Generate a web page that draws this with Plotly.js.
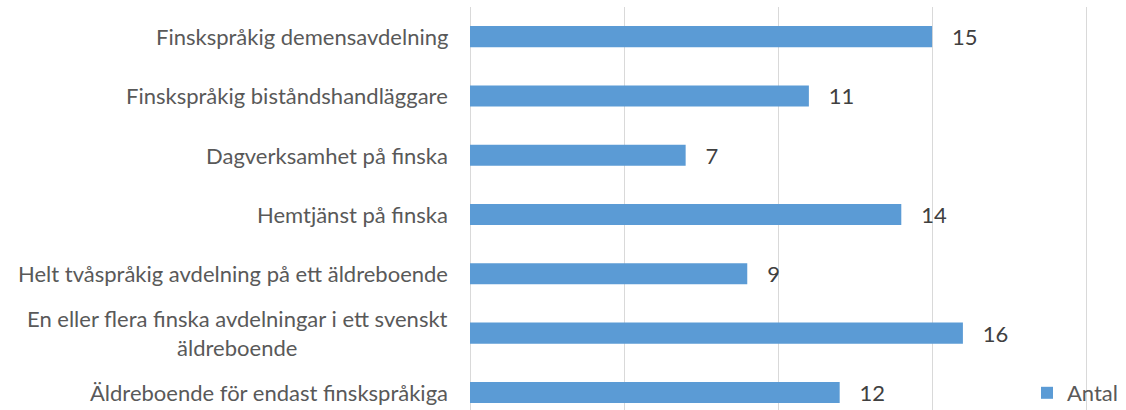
<!DOCTYPE html>
<html>
<head>
<meta charset="utf-8">
<script src="https://cdn.plot.ly/plotly-3.0.1.min.js"></script>
<style>html,body{margin:0;padding:0;background:#fff;}#chart{width:1126px;height:410px;}</style>
</head>
<body>
<div id="chart"></div>
<script>
const categories = [
  "Finskspråkig demensavdelning",
  "Finskspråkig biståndshandläggare",
  "Dagverksamhet på finska",
  "Hemtjänst på finska",
  "Helt tvåspråkig avdelning på ett äldreboende",
  "En eller flera finska avdelningar i ett svenskt<br>äldreboende",
  "Äldreboende för endast finskspråkiga"
];
const antal = [15, 11, 7, 14, 9, 16, 12];
const seriesName = "Antal";

const FONT = "Lato, 'Open Sans', sans-serif";
const LABEL_SIZE = 22;

const trace = {
  type: "bar",
  orientation: "h",
  name: seriesName,
  x: antal,
  y: categories,
  marker: {color: "#5B9BD5"},
  texttemplate: "\u00a0\u00a0\u00a0%{x}",
  textposition: "outside",
  constraintext: "none",
  textfont: {family: FONT, size: LABEL_SIZE, color: "#404040"},
  cliponaxis: false,
  showlegend: true,
  hoverinfo: "x+y"
};

const annotations = categories.map((c) => ({
  x: 0, xref: "x", y: c, yref: "y",
  text: c, showarrow: false,
  xanchor: "right", yanchor: "middle", align: "center",
  xshift: -20,
  font: {family: FONT, size: LABEL_SIZE, color: "#595959"}
}));

const layout = {
  width: 1126, height: 410,
  margin: {l: 470, r: 26, t: 7, b: 0, pad: 0, autoexpand: false},
  paper_bgcolor: "#ffffff", plot_bgcolor: "#ffffff",
  bargap: 0.645,
  font: {family: FONT, size: LABEL_SIZE, color: "#595959"},
  xaxis: {
    range: [0, 20.45], dtick: 5, tick0: 0,
    showgrid: true, gridcolor: "#d9d9d9", gridwidth: 1,
    zeroline: true, zerolinecolor: "#d9d9d9", zerolinewidth: 1,
    showticklabels: false, ticks: "", showline: false, fixedrange: true
  },
  yaxis: {
    type: "category",
    range: [6.296, -0.5],
    showticklabels: false, showgrid: false, zeroline: false,
    ticks: "", showline: false, fixedrange: true
  },
  showlegend: true,
  legend: {
    x: (1027 - 470) / 630, y: (410 - 393) / 403, xanchor: "left", yanchor: "middle",
    bgcolor: "rgba(0,0,0,0)",
    font: {family: FONT, size: LABEL_SIZE, color: "#595959"}
  },
  annotations: annotations
};

Plotly.newPlot("chart", [trace], layout, {displayModeBar: false, staticPlot: true});
</script>
</body>
</html>
